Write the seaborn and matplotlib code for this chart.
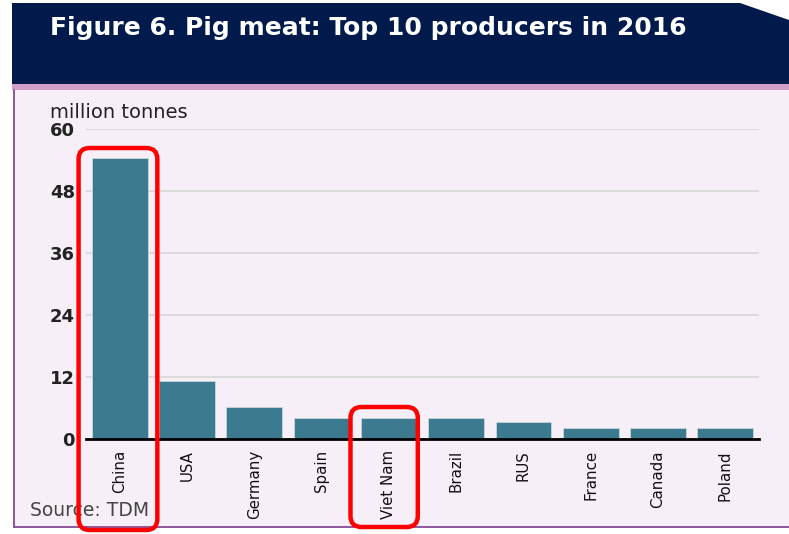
import matplotlib
matplotlib.use("Agg")
import matplotlib.pyplot as plt
from matplotlib.patches import Polygon, Rectangle, FancyBboxPatch
from matplotlib.transforms import IdentityTransform
import seaborn as sns
import pandas as pd

countries = ["China", "USA", "Germany", "Spain", "Viet Nam",
             "Brazil", "RUS", "France", "Canada", "Poland"]
production = [54.4, 11.2, 6.2, 4.1, 4.1, 4.1, 3.2, 2.1, 2.1, 2.1]
y_ticks = [0, 12, 24, 36, 48, 60]
highlighted = ["China", "Viet Nam"]

title = "Figure 6. Pig meat: Top 10 producers in 2016"
unit_label = "million tonnes"
source = "Source: TDM"

W, H = 789, 534
NAVY = "#001a4b"
PANEL = "#f7eff7"
STRIPE = "#d49fc6"
BORDER = "#7a3d8c"
BAR = "#3b7a8f"

sns.set_theme(style="white")
plt.rcParams["font.family"] = ["DejaVu Sans"]

fig = plt.figure(figsize=(W / 100, H / 100), dpi=100)
fig.patch.set_facecolor("white")


def fx(px):
    return px / W


def fy(py):
    return 1 - py / H


# header banner with clipped top-right corner
banner = Polygon([(fx(12), fy(84)), (fx(12), fy(3)), (fx(740), fy(3)),
                  (fx(789), fy(20)), (fx(789), fy(84))],
                 closed=True, transform=fig.transFigure, facecolor=NAVY,
                 edgecolor="none", zorder=-5)
fig.patches.append(banner)
fig.patches.append(Rectangle((fx(12), fy(90)), fx(777), fy(84) - fy(90),
                             transform=fig.transFigure, facecolor=STRIPE,
                             edgecolor="none", zorder=-5))
fig.patches.append(Rectangle((fx(13), fy(527)), fx(776), fy(90) - fy(527),
                             transform=fig.transFigure, facecolor=PANEL,
                             edgecolor="none", zorder=-5))
fig.lines.append(plt.Line2D([fx(13.5), fx(13.5)], [fy(90), fy(527)],
                            transform=fig.transFigure, color=BORDER, lw=1.2,
                            zorder=-4))
fig.lines.append(plt.Line2D([fx(13.5), fx(789)], [fy(527), fy(527)],
                            transform=fig.transFigure, color=BORDER, lw=1.2,
                            zorder=-4))

fig.text(fx(50), fy(28), title, color="white", fontsize=18,
         fontweight="bold", ha="left", va="center")

ax = fig.add_axes([fx(86), fy(439), fx(759) - fx(86), fy(129) - fy(439)])
ax.set_zorder(2)
ax.set_facecolor("none")

df = pd.DataFrame({"country": countries, "production": production})
sns.barplot(data=df, x="country", y="production", color=BAR, saturation=1,
            width=0.83, edgecolor="#c9d6dc", linewidth=0.6, ax=ax, zorder=3)

ax.set_xlim(-0.5, len(countries) - 0.5)
ax.set_ylim(0, 60)
ax.set_yticks(y_ticks)
ax.set_yticklabels([str(t) for t in y_ticks], fontsize=13,
                   fontweight="semibold", color="#222222")
ax.yaxis.grid(True, color="#d9d9d9", lw=1.3, zorder=0)
ax.set_axisbelow(True)
ax.tick_params(axis="y", length=0, pad=8)
ax.tick_params(axis="x", length=0, pad=8)
ax.set_xticks(range(len(countries)))
ax.set_xticklabels(countries, rotation=90, fontsize=10.8, color="#111111",
                   va="top", ha="center")
ax.set_xlabel("")
ax.set_ylabel("")
for side in ["top", "right", "left"]:
    ax.spines[side].set_visible(False)
ax.spines["bottom"].set_color("black")
ax.spines["bottom"].set_linewidth(2)
ax.spines["bottom"].set_zorder(4)

fig.text(fx(50), fy(113), unit_label, fontsize=14, color="#222222",
         ha="left", va="center")
fig.text(fx(30), fy(511), source, fontsize=13.5, color="#444444",
         ha="left", va="center")

# red rounded frames around the highlighted countries
fig.canvas.draw()
frames = {"China": (-0.61, 0.56, 148, 530), "Viet Nam": (-0.57, 0.43, 407, 527)}
for name in highlighted:
    i = countries.index(name)
    left_off, right_off, top_px, bottom_px = frames[name]
    x0 = ax.transData.transform((i + left_off, 0))[0]
    x1 = ax.transData.transform((i + right_off, 0))[0]
    y0 = H - bottom_px
    y1 = H - top_px
    box = FancyBboxPatch((x0, y0), x1 - x0, y1 - y0,
                         boxstyle="round,pad=0,rounding_size=11",
                         transform=IdentityTransform(), fill=False,
                         edgecolor="#ff0000", lw=3.2, zorder=10)
    fig.patches.append(box)

fig.savefig("out.png", dpi=100)
